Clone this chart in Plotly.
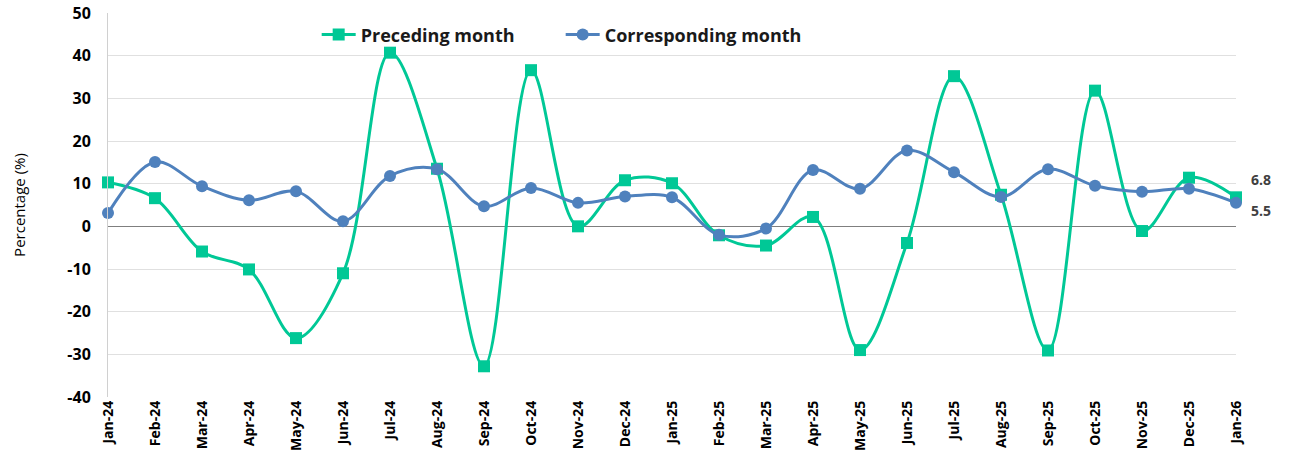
import plotly.graph_objects as go

MONTHS = [
    "Jan-24", "Feb-24", "Mar-24", "Apr-24", "May-24", "Jun-24",
    "Jul-24", "Aug-24", "Sep-24", "Oct-24", "Nov-24", "Dec-24",
    "Jan-25", "Feb-25", "Mar-25", "Apr-25", "May-25", "Jun-25",
    "Jul-25", "Aug-25", "Sep-25", "Oct-25", "Nov-25", "Dec-25",
    "Jan-26",
]

PRECEDING = [
    10.3, 6.6, -5.9, -10.1, -26.2, -11.0,
    40.7, 13.5, -32.8, 36.6, 0.0, 10.8,
    10.1, -2.1, -4.5, 2.2, -29.0, -3.9,
    35.2, 7.4, -29.1, 31.8, -1.1, 11.4,
    6.8,
]

CORRESPONDING = [
    3.1, 15.1, 9.4, 6.1, 8.2, 1.2,
    11.8, 13.4, 4.7, 9.0, 5.5, 7.0,
    6.8, -2.0, -0.5, 13.2, 8.8, 17.8,
    12.7, 6.9, 13.4, 9.5, 8.1, 8.8,
    5.5,
]

Y_TICKS = [-40, -30, -20, -10, 0, 10, 20, 30, 40, 50]

GREEN = "#00C896"
BLUE = "#4F81BD"
FONT = "Open Sans"

x_idx = list(range(len(MONTHS)))

fig = go.Figure()

fig.add_scatter(
    x=x_idx,
    y=PRECEDING,
    mode="lines+markers",
    name="Preceding month",
    line=dict(color=GREEN, width=3, shape="spline", smoothing=1),
    marker=dict(symbol="square", size=12, color=GREEN),
    cliponaxis=False,
)

fig.add_scatter(
    x=x_idx,
    y=CORRESPONDING,
    mode="lines+markers",
    name="Corresponding month",
    line=dict(color=BLUE, width=3, shape="spline", smoothing=1),
    marker=dict(symbol="circle", size=12, color=BLUE),
    cliponaxis=False,
)

# end labels
fig.add_annotation(
    x=x_idx[-1], y=PRECEDING[-1], text="6.8",
    showarrow=False, xanchor="left", xshift=13, yshift=18,
    font=dict(family=FONT, size=14, color="#404040", weight="bold"),
)
fig.add_annotation(
    x=x_idx[-1], y=CORRESPONDING[-1], text="5.5",
    showarrow=False, xanchor="left", xshift=13, yshift=-8,
    font=dict(family=FONT, size=14, color="#404040", weight="bold"),
)

fig.update_layout(
    width=1290,
    height=455,
    margin=dict(l=108, r=54, t=13, b=58, autoexpand=False),
    plot_bgcolor="white",
    paper_bgcolor="white",
    font=dict(family=FONT, color="#000000"),
    legend=dict(
        orientation="h",
        x=0.185, y=0.943,
        xanchor="left", yanchor="middle",
        font=dict(family=FONT, size=18, color="#1a1a1a", weight="bold"),
        bgcolor="rgba(0,0,0,0)",
        itemwidth=34,
        entrywidth=195,
    ),
    showlegend=True,
)

fig.update_xaxes(
    range=[0, 24],
    tickmode="array",
    tickvals=x_idx,
    ticktext=MONTHS,
    tickangle=-90,
    tickfont=dict(family=FONT, size=14, color="#000000", weight="bold"),
    showgrid=False,
    zeroline=False,
    showline=False,
    ticks="",
    automargin=False,
)

fig.update_yaxes(
    range=[-40, 50],
    tickmode="array",
    tickvals=Y_TICKS,
    ticktext=[str(v) for v in Y_TICKS],
    tickfont=dict(family=FONT, size=16, color="#000000", weight="bold"),
    ticklabeloverflow="allow",
    showgrid=True,
    gridcolor="#e0e0e0",
    gridwidth=1,
    zeroline=True,
    zerolinecolor="#7f7f7f",
    zerolinewidth=1,
    showline=True,
    linecolor="#d0d0d0",
    linewidth=1,
    ticks="",
    ticklabelstandoff=13,
    automargin=False,
    title=dict(text="Percentage (%)", font=dict(family=FONT, size=15, color="#000000"), standoff=38),
)

# drop the default 8px body margin so the figure fills the window exactly
fig.write_html(
    "out.html",
    config={"displayModeBar": False},
    post_script="document.body.style.margin = '0';",
)
